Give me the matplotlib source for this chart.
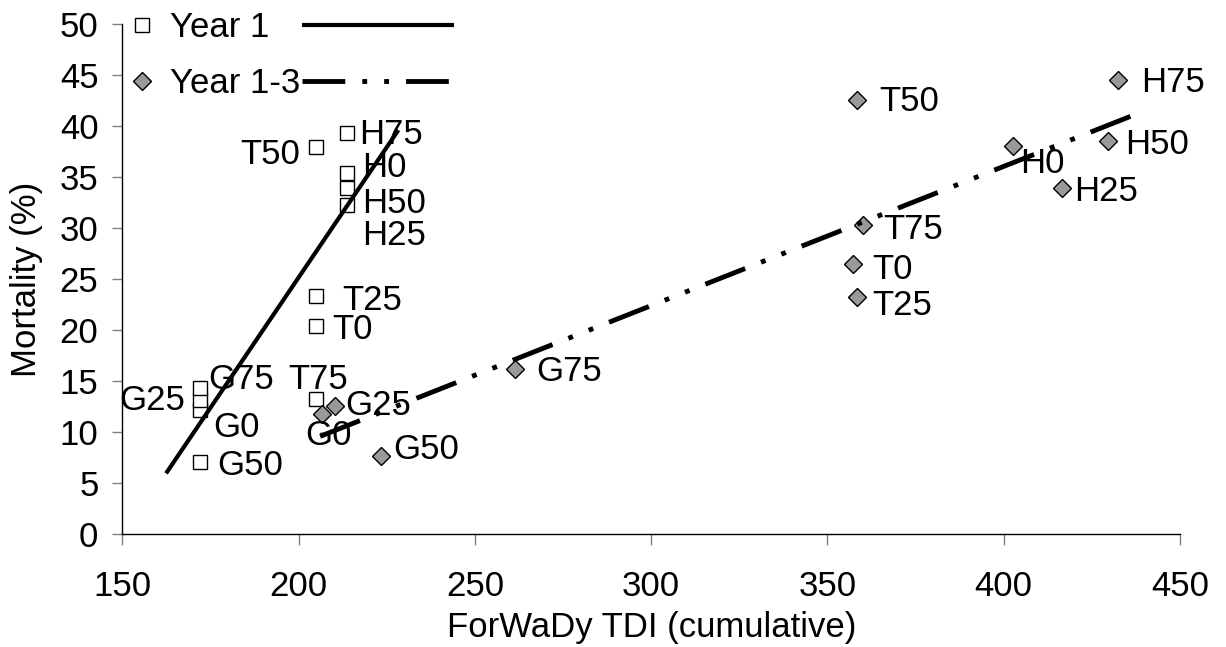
import matplotlib
matplotlib.use('Agg')
import matplotlib.pyplot as plt
from matplotlib.lines import Line2D
import numpy as np

plt.rcParams['font.family'] = ['Liberation Sans', 'DejaVu Sans']
plt.rcParams['font.size'] = 25

# Year 1 measurements (white squares)
year1_names = ['G0', 'G25', 'G50', 'G75', 'T0', 'T25', 'T50', 'T75', 'H0', 'H25', 'H50', 'H75']
year1_tdi = [172.0, 172.0, 172.0, 172.0, 204.9, 204.9, 204.9, 204.9, 213.6, 213.6, 213.6, 213.6]
year1_mortality = [12.2, 13.1, 7.1, 14.3, 20.4, 23.3, 37.9, 13.2, 35.4, 32.3, 33.9, 39.3]

# Year 1-3 measurements (grey diamonds)
year13_names = ['G0', 'G25', 'G50', 'G75', 'T0', 'T25', 'T50', 'T75', 'H0', 'H25', 'H50', 'H75']
year13_tdi = [206.6, 210.3, 223.4, 261.4, 357.3, 358.3, 358.3, 360.2, 402.7, 416.4, 429.5, 432.3]
year13_mortality = [11.8, 12.5, 7.65, 16.2, 26.5, 23.2, 42.5, 30.3, 38.0, 33.9, 38.5, 44.5]

# extent of the linear trendlines (x range)
year1_trend_range = [162.4, 228.3]
year13_trend_range = [206.1, 439.5]

x_ticks = [150, 200, 250, 300, 350, 400, 450]
y_ticks = [0, 5, 10, 15, 20, 25, 30, 35, 40, 45, 50]

# label placement in pixels: (dx, dy down, horizontal alignment)
year1_label_pos = {
    'G0': (13, 15, 'left'), 'G25': (-15, -3, 'right'), 'G50': (17, 1, 'left'),
    'G75': (8, -12, 'left'), 'T0': (16, 1, 'left'), 'T25': (26, 1, 'left'),
    'T50': (-16, 4, 'right'), 'T75': (2, -23, 'center'), 'H0': (16, -8, 'left'),
    'H25': (16, 28, 'left'), 'H50': (16, 12, 'left'), 'H75': (13, -2, 'left'),
}
year13_label_pos = {
    'G0': (7, 19, 'center'), 'G25': (10, -4, 'left'), 'G50': (12, -9, 'left'),
    'G75': (21, 0, 'left'), 'T0': (19, 3, 'left'), 'T25': (16, 5, 'left'),
    'T50': (23, -2, 'left'), 'T75': (20, 2, 'left'), 'H0': (7, 14, 'left'),
    'H25': (13, 0, 'left'), 'H50': (17, 0, 'left'), 'H75': (24, 0, 'left'),
}

PX = 0.72  # points per pixel at 100 dpi
CAP_HALF = 12.4  # half cap height in pixels


def trend_line(xs, ys, x_range):
    slope, icpt = np.polyfit(xs, ys, 1)
    xx = np.array(x_range)
    return xx, slope * xx + icpt


def add_labels(ax, names, xs, ys, positions):
    for name, x, y in zip(names, xs, ys):
        dx, dy, ha = positions[name]
        ax.annotate(name, (x, y), xytext=(dx * PX, -(dy + CAP_HALF) * PX),
                    textcoords='offset points', ha=ha, va='baseline', zorder=3)


fig = plt.figure(figsize=(12.26, 6.47), dpi=100)
ax = fig.add_axes([0.0998, 0.1747, 0.8627, 0.7882])

square_style = dict(marker='s', markersize=9.8, markerfacecolor='white',
                    markeredgecolor='black', markeredgewidth=1.0, linestyle='none')
diamond_style = dict(marker='D', markersize=9.2, markerfacecolor='#999999',
                     markeredgecolor='black', markeredgewidth=1.0, linestyle='none')
solid_style = dict(color='black', linewidth=3.0, linestyle='-', solid_capstyle='butt')
dashdot_style = dict(color='black', linewidth=3.5,
                     linestyle=(0, (8.8, 3.5, 1.0, 3.5, 1.0, 3.5)), dash_capstyle='butt')

ax.plot(year1_tdi, year1_mortality, zorder=2, **square_style)
ax.plot(year13_tdi, year13_mortality, zorder=2, **diamond_style)

add_labels(ax, year1_names, year1_tdi, year1_mortality, year1_label_pos)
add_labels(ax, year13_names, year13_tdi, year13_mortality, year13_label_pos)

# trendlines on top of everything
tx, ty = trend_line(year1_tdi, year1_mortality, year1_trend_range)
ax.plot(tx, ty, zorder=5, **solid_style)
tx, ty = trend_line(year13_tdi, year13_mortality, year13_trend_range)
ax.plot(tx, ty, zorder=5, **dashdot_style)

ax.set_xlim(150, 450)
ax.set_ylim(0, 50)
ax.set_xticks(x_ticks)
ax.set_yticks(y_ticks)
ax.spines['top'].set_visible(False)
ax.spines['right'].set_visible(False)
for side in ['left', 'bottom']:
    ax.spines[side].set_linewidth(1.0)
ax.tick_params(axis='x', direction='out', length=8, width=1, color='#808080', pad=18)
ax.tick_params(axis='y', direction='out', length=7.2, width=1, color='#808080', pad=10)
ax.set_xlabel('ForWaDy TDI (cumulative)', labelpad=6)
ax.set_ylabel('Mortality (%)', labelpad=12)

# legend: marker + name, then the trendline sample to the right
marker_handles = [Line2D([], [], **square_style), Line2D([], [], **diamond_style)]
leg1 = ax.legend(marker_handles, ['Year 1', 'Year 1-3'], loc='center left',
                 bbox_to_anchor=(0.0058, 0.938), frameon=False, borderpad=0,
                 borderaxespad=0, handlelength=0.8, handletextpad=0.4, labelspacing=0.67)
ax.add_artist(leg1)
line_handles = [Line2D([], [], **solid_style), Line2D([], [], **dashdot_style)]
ax.legend(line_handles, ['', ''], loc='center left', bbox_to_anchor=(0.1696, 0.938),
          frameon=False, borderpad=0, borderaxespad=0, handlelength=4.39,
          handletextpad=0, labelspacing=0.67)

fig.savefig('out.png', dpi=100)
